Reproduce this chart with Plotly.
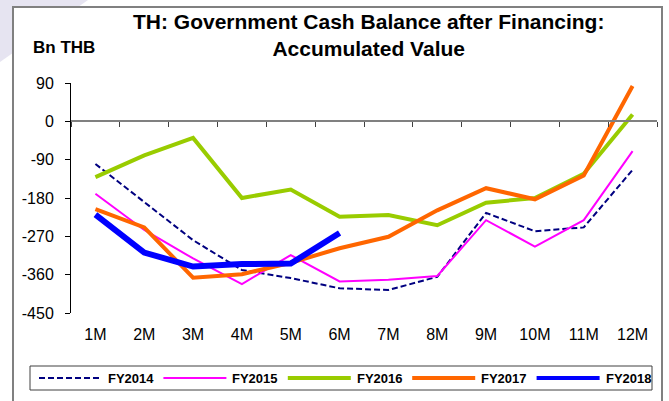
import plotly.graph_objects as go

months = ["1M", "2M", "3M", "4M", "5M", "6M", "7M", "8M", "9M", "10M", "11M", "12M"]
fy2014 = [-100, -189, -279, -349, -368, -392, -396, -365, -215, -258, -249, -114]
fy2015 = [-170, -255, -322, -382, -314, -376, -372, -363, -232, -294, -232, -70]
fy2016 = [-131, -80, -39, -180, -160, -224, -220, -244, -191, -180, -123, 16]
fy2017 = [-206, -249, -367, -359, -332, -298, -271, -209, -157, -183, -127, 83]
fy2018 = [-219, -308, -341, -335, -334, -262]
y_ticks = [90, 0, -90, -180, -270, -360, -450]

series = [
    ("FY2014", fy2014, "#000080", 2, "6px,3px"),
    ("FY2015", fy2015, "#FF00FF", 2, "solid"),
    ("FY2016", fy2016, "#99CC00", 4, "solid"),
    ("FY2017", fy2017, "#FF6600", 4, "solid"),
    ("FY2018", fy2018, "#0000FF", 6, "solid"),
]

W, H = 669, 401
L, R, T, B = 71, 12, 83, 88
PW, PH = W - L - R, H - T - B


def px(x):
    return (x - L) / PW


def py(y):
    return (H - B - y) / PH


FONT = "Liberation Sans, Arial, sans-serif"

fig = go.Figure()
for name, vals, color, width, dash in series:
    fig.add_trace(go.Scatter(
        x=months[:len(vals)], y=vals, name=name, mode="lines",
        line=dict(color=color, width=width, dash=dash),
        showlegend=False, hoverinfo="skip",
    ))

shapes = [
    # light watermark in the top-left corner
    dict(type="path", xref="paper", yref="paper", layer="below",
         path=f"M {px(0)},{py(0)} L {px(88)},{py(0)} L {px(0)},{py(62)} Z",
         fillcolor="#E6E4F1", line=dict(width=0)),
    # outer frame
    dict(type="rect", xref="paper", yref="paper", layer="below",
         x0=px(13), x1=px(662), y0=py(7), y1=py(420),
         fillcolor="white", line=dict(color="#808080", width=2)),
    # legend box
    dict(type="rect", xref="paper", yref="paper",
         x0=px(30), x1=px(652), y0=py(366), y1=py(390),
         fillcolor="white", line=dict(color="#404040", width=1)),
]
annotations = [
    dict(text="<b>TH: Government Cash Balance after Financing:<br>Accumulated Value</b>",
         xref="paper", yref="paper", x=px(368), y=py(35.5),
         xanchor="center", yanchor="middle", showarrow=False,
         font=dict(family=FONT, size=21, color="black")),
    dict(text="<b>Bn THB</b>", xref="paper", yref="paper", x=px(31), y=py(47),
         xanchor="left", yanchor="middle", showarrow=False,
         font=dict(family=FONT, size=17, color="black")),
]
step = 124.4
for i, (name, vals, color, width, dash) in enumerate(series):
    x0 = 39 + i * step
    shapes.append(dict(type="line", xref="paper", yref="paper",
                       x0=px(x0), x1=px(x0 + 63), y0=py(378), y1=py(378),
                       line=dict(color=color, width=min(width, 4), dash=dash)))
    annotations.append(dict(text=f"<b>{name}</b>", xref="paper", yref="paper",
                            x=px(x0 + 67), y=py(378), xanchor="left", yanchor="middle",
                            showarrow=False,
                            font=dict(family=FONT, size=13, color="black")))

fig.update_layout(
    width=W, height=H,
    margin=dict(l=L, r=R, t=T, b=B),
    paper_bgcolor="white", plot_bgcolor="rgba(0,0,0,0)",
    font=dict(family=FONT, color="black"),
    xaxis=dict(type="category", categoryorder="array", categoryarray=months,
               range=[-0.5, 11.5], showgrid=False, zeroline=False, showline=False,
               ticks="outside", ticklen=7, tickcolor="rgba(0,0,0,0)",
               tickfont=dict(family=FONT, size=16, color="black")),
    xaxis2=dict(type="category", categoryorder="array", categoryarray=months,
                range=[-0.5, 11.5], overlaying="x", anchor="free",
                position=450 / 540, side="bottom",
                showgrid=False, zeroline=False, showline=True,
                linecolor="#808080", linewidth=2,
                ticks="outside", ticklen=5, tickcolor="#404040", tickwidth=1,
                tickson="boundaries", showticklabels=False),
    yaxis=dict(range=[-450, 90], tickvals=y_ticks, ticktext=[str(v) for v in y_ticks],
               showgrid=False, zeroline=False, showline=True,
               linecolor="black", linewidth=1, ticks="outside", ticklen=5,
               ticklabelstandoff=8,
               tickcolor="black", tickfont=dict(family=FONT, size=16, color="black")),
    shapes=shapes,
    annotations=annotations,
    showlegend=False,
)
# invisible trace to activate the zero-line axis with its boundary ticks
fig.add_trace(go.Scatter(x=months, y=[None] * len(months), xaxis="x2",
                         showlegend=False, hoverinfo="skip"))

fig.write_html(
    "out.html",
    config={"displayModeBar": False},
    post_script="document.body.style.margin='0';document.body.style.overflow='hidden';",
)
